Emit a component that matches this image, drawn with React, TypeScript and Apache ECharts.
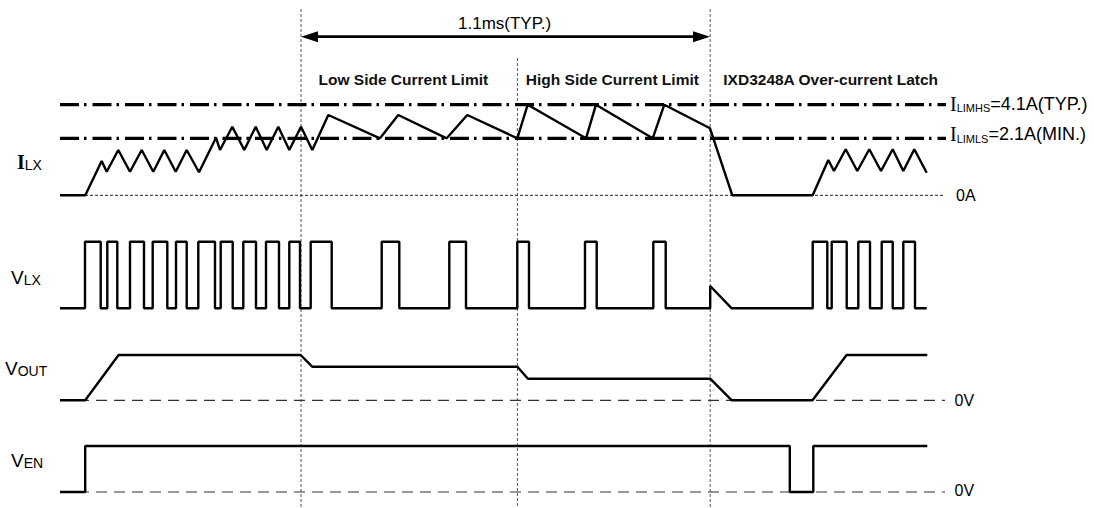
import React, { useEffect, useRef } from 'react';
import * as echarts from 'echarts';

// ---------- data (time axis in arbitrary time units, levels normalised 0..1 per trace) ----------
const T_MIN = 0;
const T_MAX = 1094;
const T_START = 60;

const phaseBoundaries = [301, 517.4, 710.2];
const phaseTitles = ['Low Side Current Limit', 'High Side Current Limit', 'IXD3248A Over-current Latch'];
const typSpan = [301, 710]; // 1.1 ms (TYP.)
const typLabel = '1.1ms(TYP.)';

const ILIM_HS = 1;
const ILIM_LS = 0.629;
const limitEnd = 946;
const baseEnd = 945;

const ilxPoints: [number, number][] = [
  [60, 0], [85.3, 0], [101.7, 0.379], [106.7, 0.26], [118.3, 0.5], [130, 0.26], [141.7, 0.5],
  [153.3, 0.26], [164.3, 0.5], [175.7, 0.26], [186.7, 0.5], [199, 0.254], [216, 0.636], [220, 0.5],
  [232.3, 0.757], [244.3, 0.5], [255.7, 0.757], [266.7, 0.5], [278.3, 0.757], [289.3, 0.5],
  [301, 0.757], [312.3, 0.5], [328.3, 0.886], [380, 0.629], [398.3, 0.886], [446.7, 0.629],
  [467.3, 0.886], [517.3, 0.629], [527.7, 1], [586, 0.629], [596, 1], [652.7, 0.629], [664.3, 1],
  [710, 0.74], [732.3, 0], [812.7, 0], [828.3, 0.39], [834, 0.268], [845.7, 0.508], [857.3, 0.268],
  [869.3, 0.508], [881, 0.268], [892.7, 0.508], [903.3, 0.268], [914.3, 0.508], [926.7, 0.249],
];

const vlxEdgesBefore = [
  85, 100.7, 107.3, 117.3, 130, 144, 152.7, 167.3, 176, 186.7, 198.3, 215, 220.7, 232.7, 243.3, 256,
  266, 279, 289.3, 300, 310.7, 331.7, 381.7, 399.3, 449.3, 466, 517.3, 529, 585, 596.7, 653.3, 665.7,
];
const vlxLatch: [number, number][] = [[710.2, 0], [710.2, 0.335], [731.7, 0]];
const vlxEdgesAfter = [812.7, 827.3, 831.7, 846.7, 858.3, 870, 881.7, 892.7, 903.3, 915];
const vlxEnd = 926.7;

const voutPoints: [number, number][] = [
  [60, 0], [85.2, 0], [118.6, 1], [300.6, 1], [312.2, 0.742], [517.4, 0.742], [527.9, 0.477],
  [710.2, 0.477], [731.8, 0], [812.5, 0], [846.6, 1], [927.3, 1],
];

const venEdges = [85.2, 789.8, 813.3];
const venEnd = 927.3;

// ---------- helpers ----------
function steps(start: number, edges: number[], end: number, startLevel = 0): [number, number][] {
  const pts: [number, number][] = [[start, startLevel]];
  let lv = startLevel;
  for (const e of edges) {
    pts.push([e, lv]);
    lv = lv === 0 ? 1 : 0;
    pts.push([e, lv]);
  }
  pts.push([end, lv]);
  return pts;
}

const vlxPoints: [number, number][] = [
  ...steps(T_START, vlxEdgesBefore, vlxLatch[0][0]),
  ...vlxLatch.slice(1),
  ...steps(vlxLatch[vlxLatch.length - 1][0], vlxEdgesAfter, vlxEnd).slice(1),
];
const venPoints = steps(T_START, venEdges, venEnd);

const SANS = 'Liberation Sans';
const SERIF = 'Liberation Serif';
const BLACK = '#000';

// grid geometry (pixels) for each trace: [top, height]
const grids = [
  { top: 104.7, height: 90.6 }, // I_LX
  { top: 241.7, height: 66.6 }, // V_LX
  { top: 355, height: 45.3 }, // V_OUT
  { top: 446, height: 46 }, // V_EN
  { top: 0, height: 508 }, // overlay
];

const signalStyle = { color: BLACK, width: 2.4 };

function lineSeries(idx: number, data: [number, number][], lineStyle: any, extra: any = {}) {
  return {
    type: 'line',
    xAxisIndex: idx,
    yAxisIndex: idx,
    data,
    symbol: 'none',
    showSymbol: false,
    clip: false,
    silent: true,
    lineStyle,
    z: 3,
    ...extra,
  };
}

const subRich = {
  i: { fontFamily: SERIF, fontSize: 20, color: BLACK },
  s: { fontFamily: SANS, fontSize: 11, color: BLACK, verticalAlign: 'bottom', lineHeight: 13 },
  n: { fontFamily: SANS, fontSize: 18, color: BLACK },
};

function endLabel(formatter: string, distance: number, offset: number[] = [0, 0]) {
  return {
    endLabel: {
      show: true,
      formatter: () => formatter,
      distance,
      offset,
      rich: subRich,
      fontFamily: SANS,
      fontSize: 16,
      color: BLACK,
    },
  };
}

function leftLabel(main: string, sub: string, x: number, y: number, serif = false) {
  return {
    type: 'text',
    x,
    y,
    silent: true,
    style: {
      text: `{m|${main}}{s|${sub}}`,
      textVerticalAlign: 'middle',
      textAlign: 'left',
      rich: {
        m: serif
          ? { fontFamily: SERIF, fontWeight: 'bold', fontSize: 20, fill: BLACK }
          : { fontFamily: SANS, fontSize: 19, fill: BLACK },
        s: { fontFamily: SANS, fontSize: 14, fill: BLACK, verticalAlign: 'bottom', lineHeight: 15 },
      },
    },
  };
}

export default function App() {
  const ref = useRef<HTMLDivElement>(null);

  useEffect(() => {
    document.body.style.margin = '0';
    if (!ref.current) return;
    const chart = echarts.init(ref.current, undefined, { renderer: 'svg' });

    const series: any[] = [];

    // reference lines (I_LIMHS / I_LIMLS)
    const dashDot = { color: BLACK, width: 3.2, type: [19, 5, 2.5, 6] };
    series.push(
      lineSeries(0, [[T_START, ILIM_HS], [limitEnd, ILIM_HS]], dashDot, {
        z: 2,
        ...endLabel('{i|I}{s|LIMHS}{n|=4.1A(TYP.)}', 4, [0, -1]),
      }),
    );
    series.push(
      lineSeries(0, [[T_START, ILIM_LS], [limitEnd, ILIM_LS]], dashDot, {
        z: 2,
        ...endLabel('{i|I}{s|LIMLS}{n|=2.1A(MIN.)}', 4, [0, -4]),
      }),
    );
    // baselines
    series.push(
      lineSeries(0, [[T_START, 0], [baseEnd, 0]], { color: '#222', width: 1, type: [3, 2] }, {
        z: 2,
        ...endLabel('0A', 11),
      }),
    );
    series.push(
      lineSeries(2, [[T_START, 0], [baseEnd, 0]], { color: '#333', width: 1.2, type: [11, 7] }, {
        z: 2,
        ...endLabel('0V', 9.5),
      }),
    );
    series.push(
      lineSeries(3, [[T_START, 0], [baseEnd, 0]], { color: '#333', width: 1.2, type: [11, 7] }, {
        z: 2,
        ...endLabel('0V', 9.5, [0, -2]),
      }),
    );

    // signals
    series.push(lineSeries(0, ilxPoints, signalStyle));
    series.push(lineSeries(1, vlxPoints, signalStyle));
    series.push(lineSeries(2, voutPoints, signalStyle));
    series.push(lineSeries(3, venPoints, signalStyle));

    // phase boundary lines (overlay grid, y in overlay rows)
    const phaseTops = [9, 58, 9];
    phaseBoundaries.forEach((x, i) => {
      series.push(
        lineSeries(4, [[x, phaseTops[i]], [x, 508]], { color: '#555', width: 1, type: [3, 2] }, { z: 1 }),
      );
    });

    // 1.1 ms arrow
    series.push({
      type: 'custom',
      xAxisIndex: 4,
      yAxisIndex: 4,
      silent: true,
      clip: false,
      data: [[typSpan[0], typSpan[1], 36.7]],
      renderItem: (_p: any, api: any) => {
        const a = api.coord([api.value(0), api.value(2)]);
        const b = api.coord([api.value(1), api.value(2)]);
        const hl = 17;
        const hw = 5.5;
        return {
          type: 'group',
          children: [
            {
              type: 'line',
              shape: { x1: a[0] + hl - 2, y1: a[1], x2: b[0] - hl + 2, y2: b[1] },
              style: { stroke: BLACK, lineWidth: 2.8 },
            },
            {
              type: 'polygon',
              shape: { points: [[a[0], a[1]], [a[0] + hl, a[1] - hw], [a[0] + hl, a[1] + hw]] },
              style: { fill: BLACK },
            },
            {
              type: 'polygon',
              shape: { points: [[b[0], b[1]], [b[0] - hl, b[1] - hw], [b[0] - hl, b[1] + hw]] },
              style: { fill: BLACK },
            },
          ],
        };
      },
    });

    const xAxis = grids.map((_, i) => ({
      type: 'value',
      gridIndex: i,
      min: T_MIN,
      max: T_MAX,
      show: false,
    }));
    const yAxis = grids.map((_, i) =>
      i === 4
        ? { type: 'value', gridIndex: i, min: 0, max: 508, inverse: true, show: false }
        : { type: 'value', gridIndex: i, min: 0, max: 1, show: false },
    );

    const titleX = [318.5, 525.8, 723.3];

    chart.setOption({
      animation: false,
      backgroundColor: '#fff',
      grid: grids.map((g) => ({ left: 0, right: 0, top: g.top, height: g.height, containLabel: false })),
      xAxis,
      yAxis,
      series,
      graphic: [
        {
          type: 'text',
          x: 458,
          y: 23,
          silent: true,
          style: {
            text: typLabel,
            fontFamily: SANS,
            fontSize: 17,
            fill: BLACK,
            textVerticalAlign: 'middle',
          },
        },
        ...phaseTitles.map((t, i) => ({
          type: 'text',
          x: titleX[i],
          y: 79,
          silent: true,
          style: {
            text: t,
            fontFamily: SANS,
            fontWeight: 'bold',
            fontSize: 15.5,
            fill: '#111',
            textVerticalAlign: 'middle',
          },
        })),
        leftLabel('I', 'LX', 17, 162, true),
        leftLabel('V', 'LX', 11, 277),
        leftLabel('V', 'OUT', 5, 368),
        leftLabel('V', 'EN', 11, 460),
      ],
    });

    return () => chart.dispose();
  }, []);

  return <div ref={ref} style={{ width: 1094, height: 508, background: '#fff' }} />;
}
